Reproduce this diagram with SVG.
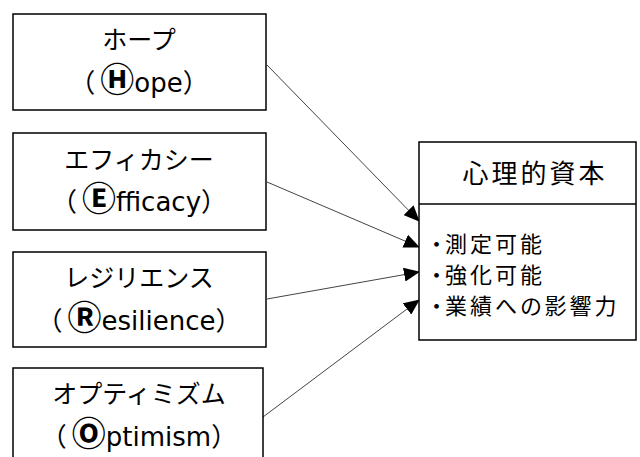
<svg xmlns="http://www.w3.org/2000/svg" width="640" height="457" viewBox="0 0 640 457">
<style>
.box{fill:#fff;stroke:#000;stroke-width:1.5}
.t{font-family:"Noto Sans CJK JP","Noto Sans",sans-serif;font-size:25px;fill:#000;text-anchor:middle}
.l{font-family:"DejaVu Sans","Noto Sans CJK JP",sans-serif;font-size:26px;fill:#000;text-anchor:middle}
.p{font-family:"Noto Sans CJK JP",sans-serif}
.h{font-size:26px;letter-spacing:3px}
.k{font-family:"DejaVu Sans","Noto Sans CJK JP",sans-serif;font-size:34px;font-weight:bold}
.b{font-family:"Noto Sans CJK JP","Noto Sans",sans-serif;font-size:22px;fill:#000;letter-spacing:3px;font-feature-settings:"palt"}
.c{stroke:#444;stroke-width:1;fill:none;marker-end:url(#ah)}
</style>
<defs>
<marker id="ah" markerWidth="16" markerHeight="14" refX="15" refY="7" orient="auto" markerUnits="userSpaceOnUse">
<path d="M0,0 L16,7 L0,14 Z" fill="#000"/>
</marker>
</defs>
<rect width="640" height="457" fill="#fff"/>
<g id="connectors">
<line class="c" x1="267" y1="65" x2="419" y2="221"/>
<line class="c" x1="267" y1="182" x2="419" y2="247"/>
<line class="c" x1="267" y1="299" x2="419" y2="272"/>
<line class="c" x1="263" y1="417" x2="419" y2="300"/>
</g>
<g id="hope">
<rect class="box" x="13" y="14" width="253" height="96"/>
<text class="t" x="139" y="49">ホープ</text>
<text class="l" x="139" y="92"><tspan class="p">（</tspan><tspan class="k" dx="5">Ⓗ</tspan>ope<tspan class="p">）</tspan></text>
</g>
<g id="efficacy">
<rect class="box" x="13" y="133" width="253" height="97"/>
<text class="t" x="139" y="169">エフィカシー</text>
<text class="l" x="139" y="211"><tspan class="p">（</tspan><tspan class="k" dx="5">Ⓔ</tspan>fficacy<tspan class="p">）</tspan></text>
</g>
<g id="resilience">
<rect class="box" x="13" y="252" width="253" height="95"/>
<text class="t" x="139" y="287">レジリエンス</text>
<text class="l" x="139" y="330"><tspan class="p">（</tspan><tspan class="k" dx="5">Ⓡ</tspan>esilience<tspan class="p">）</tspan></text>
</g>
<g id="optimism">
<rect class="box" x="13" y="368" width="250" height="100"/>
<text class="t" x="139" y="403">オプティミズム</text>
<text class="l" x="139" y="446"><tspan class="p">（</tspan><tspan class="k" dx="5">Ⓞ</tspan>ptimism<tspan class="p">）</tspan></text>
</g>
<g id="capital">
<rect class="box" x="419" y="142" width="217" height="198"/>
<line x1="419" y1="204" x2="636" y2="204" stroke="#000" stroke-width="1.5"/>
<text class="t h" x="535" y="183">心理的資本</text>
<text class="b" x="431" y="252">・測定可能</text>
<text class="b" x="431" y="283">・強化可能</text>
<text class="b" x="431" y="314">・業績への影響力</text>
</g>
</svg>
